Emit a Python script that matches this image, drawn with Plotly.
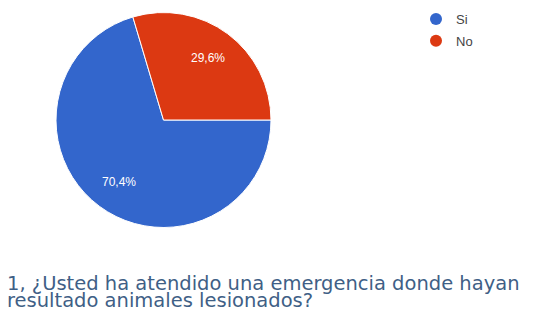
import math
import plotly.graph_objects as go

labels = ["Si", "No"]
values = [70.4, 29.6]
colors = ["#3366cc", "#dc3912"]
title_lines = ["1, ¿Usted ha atendido una emergencia donde hayan", "resultado animales lesionados?"]

W, H = 533, 316
cx, cy, r = 163.5, 120, 107.5  # pie centre / radius in pixels
fig = go.Figure()
fig.add_trace(go.Pie(
    labels=labels, values=values, sort=False, direction="clockwise", rotation=90,
    marker=dict(colors=colors, line=dict(color="white", width=1)),
    textinfo="none",
    domain=dict(x=[(cx - r) / W, (cx + r) / W], y=[(H - cy - r) / H, (H - cy + r) / H]),
    showlegend=False, hoverinfo="label+percent",
))
# percentage labels at ~0.71 radius along each slice bisector (Google-chart style)
total = sum(values)
start = 90.0
for v in values:
    sweep = 360.0 * v / total
    mid = math.radians(start + sweep / 2)
    px = cx + 0.70 * r * math.sin(mid)
    py = cy - 0.72 * r * math.cos(mid)
    fig.add_annotation(
        text=f"{100 * v / total:.1f}%".replace(".", ","), xref="paper", yref="paper",
        x=px / W, y=1 - py / H, xanchor="center", yanchor="middle", showarrow=False,
        font=dict(family="Liberation Sans, Arial", size=12, color="white"),
    )
    start += sweep

for i, (lab, col) in enumerate(zip(labels, colors)):
    fig.add_trace(go.Scatter(
        x=[None], y=[None], mode="markers", name=lab, legendgroup=f"g{i}",
        marker=dict(symbol="circle", size=12, color=col),
    ))

for i, line in enumerate(title_lines):
    fig.add_annotation(
        text=line, xref="paper", yref="paper", x=6 / W, y=1 - (283.5 + 17 * i) / H,
        xanchor="left", yanchor="middle", align="left", showarrow=False, borderpad=0,
        font=dict(family="DejaVu Sans", size=19.5, color="#3f5f86"),
    )

fig.update_layout(
    width=W, height=H, margin=dict(l=0, r=0, t=0, b=0),
    paper_bgcolor="white", plot_bgcolor="white",
    xaxis=dict(visible=False), yaxis=dict(visible=False),
    legend=dict(x=416 / W, y=1 - 4 / H, xanchor="left", yanchor="top",
                font=dict(family="Liberation Sans, Arial", size=13, color="#444444"),
                itemwidth=30, tracegroupgap=2, bgcolor="rgba(0,0,0,0)"),
)
fig.write_html("out.html", config={"displayModeBar": False},
               post_script="document.body.style.margin='0';")
